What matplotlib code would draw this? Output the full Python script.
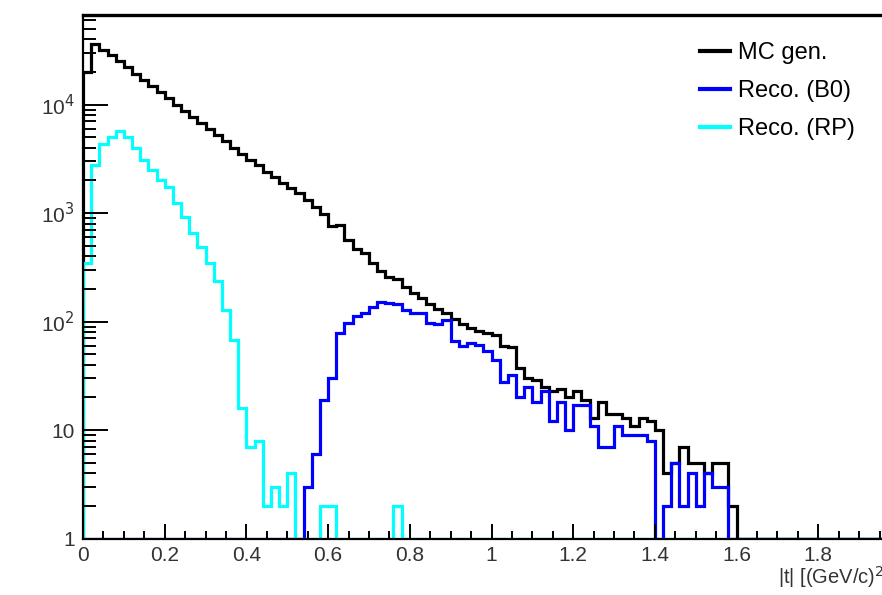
import numpy as np
import matplotlib
matplotlib.use("Agg")
import matplotlib.pyplot as plt
from matplotlib.ticker import FixedLocator, NullFormatter, MultipleLocator

plt.rcParams['font.family'] = ['Liberation Sans', 'DejaVu Sans']

# |t| histogram binning: 100 bins of 0.02 (GeV/c)^2 from 0 to 2
t_lo, t_hi, n_bins = 0.0, 2.0, 100

# Generated events per bin (bins 0..79, empty afterwards)
mc_gen = [20000, 36000, 32000, 28500, 25000, 22000, 19000, 17000, 15000, 13000,
          11500, 10000, 8800, 7700, 6800, 6000, 5200, 4600, 4000, 3500,
          3100, 2750, 2400, 2150, 1880, 1690, 1520, 1320, 1140, 990,
          760, 780, 560, 470, 425, 350, 290, 260, 245, 210,
          185, 165, 145, 130, 120, 105, 95, 88, 82, 78,
          75, 60, 58, 37, 30, 29, 25, 23, 24, 20,
          23, 19, 13, 18, 14, 14, 13, 11, 13, 12,
          10, 4, 5, 7, 5, 5, 4, 5, 5, 2] + [0] * 20

# Reconstructed in the B0 tracker (first filled bin is 27)
reco_b0 = [0] * 27 + [3, 6, 19, 30, 78, 97, 112, 119, 137, 152,
                      149, 145, 128, 119, 119, 98, 94, 103, 66, 60,
                      63, 61, 53, 44, 28, 32, 20, 25, 18, 23,
                      12, 18, 10, 17, 17, 11, 7, 7, 11, 9,
                      9, 9, 8, 0, 2, 5, 2, 4, 2, 4,
                      3, 3] + [0] * 21

# Reconstructed in the Roman Pots
reco_rp = [350, 2770, 4300, 5050, 5700, 5050, 3950, 3080, 2490, 2010,
           1750, 1230, 925, 650, 489, 344, 238, 128, 67, 16,
           7, 8, 2, 3, 2, 4, 0, 0, 0, 2,
           2, 0, 0, 0, 0, 0, 0, 0, 2] + [0] * 61

labels = ["MC gen.", "Reco. (B0)", "Reco. (RP)"]
colors = ["#000000", "#0000ff", "#00ffff"]

y_min, y_max = 1.0, 6.7e4

fig = plt.figure(figsize=(8.82, 5.95), dpi=100)
ax = fig.add_axes([83 / 882, 56.5 / 595, 817 / 882, 523.5 / 595])

edges = np.linspace(t_lo, t_hi, n_bins + 1)
for vals, col, lab in zip([mc_gen, reco_b0, reco_rp], colors, labels):
    v = np.clip(np.asarray(vals, dtype=float), y_min, None)
    ax.stairs(v, edges, baseline=y_min, color=col, lw=2.3, label=lab)

ax.set_yscale('log')
ax.set_xlim(t_lo, t_hi)
ax.set_ylim(y_min, y_max)

# ROOT-like frame: ticks inside, left and bottom only
ax.spines['right'].set_visible(False)
ax.spines['top'].set_linewidth(2.4)
ax.spines['left'].set_linewidth(1.6)
ax.spines['bottom'].set_linewidth(1.6)

ax.xaxis.set_minor_locator(MultipleLocator(0.05))
ax.set_xticks(np.arange(0, 1.81, 0.2))
ax.set_xticklabels(["0", "0.2", "0.4", "0.6", "0.8", "1", "1.2", "1.4", "1.6", "1.8"])

ax.yaxis.set_major_locator(FixedLocator([1, 10, 100, 1000, 10000]))
ax.set_yticklabels(["1", "10", "10$^{2}$", "10$^{3}$", "10$^{4}$"])
minor_y = [m * 10.0 ** d for d in range(0, 5) for m in range(2, 10)]
ax.yaxis.set_minor_locator(FixedLocator(minor_y))
ax.yaxis.set_minor_formatter(NullFormatter())

ax.tick_params(axis='x', which='major', direction='in', length=10.5, width=1.4,
               labelsize=15, pad=5.5, labelcolor='#333333', top=False)
ax.tick_params(axis='x', which='minor', direction='in', length=5.5, width=1.4,
               top=False)
ax.tick_params(axis='y', which='major', direction='in', length=18, width=1.4,
               labelsize=15, pad=6, labelcolor='#333333', right=False)
ax.tick_params(axis='y', which='minor', direction='in', length=9.5, width=1.4,
               right=False)

fig.text(778 / 882, 1 - 577 / 595, "|t| [(GeV/c)$^{2}$]", fontsize=14.5,
         color='#333333', ha='left', va='center')

leg = ax.legend(loc='upper left', bbox_to_anchor=(700 / 882, 1 - 42 / 595),
                bbox_transform=fig.transFigure, frameon=False, fontsize=17,
                handlelength=1.25, handletextpad=0.35, labelspacing=0.68,
                borderpad=0, borderaxespad=0)
for h in leg.get_lines():
    h.set_linewidth(3)

fig.savefig("out.png", dpi=100)
